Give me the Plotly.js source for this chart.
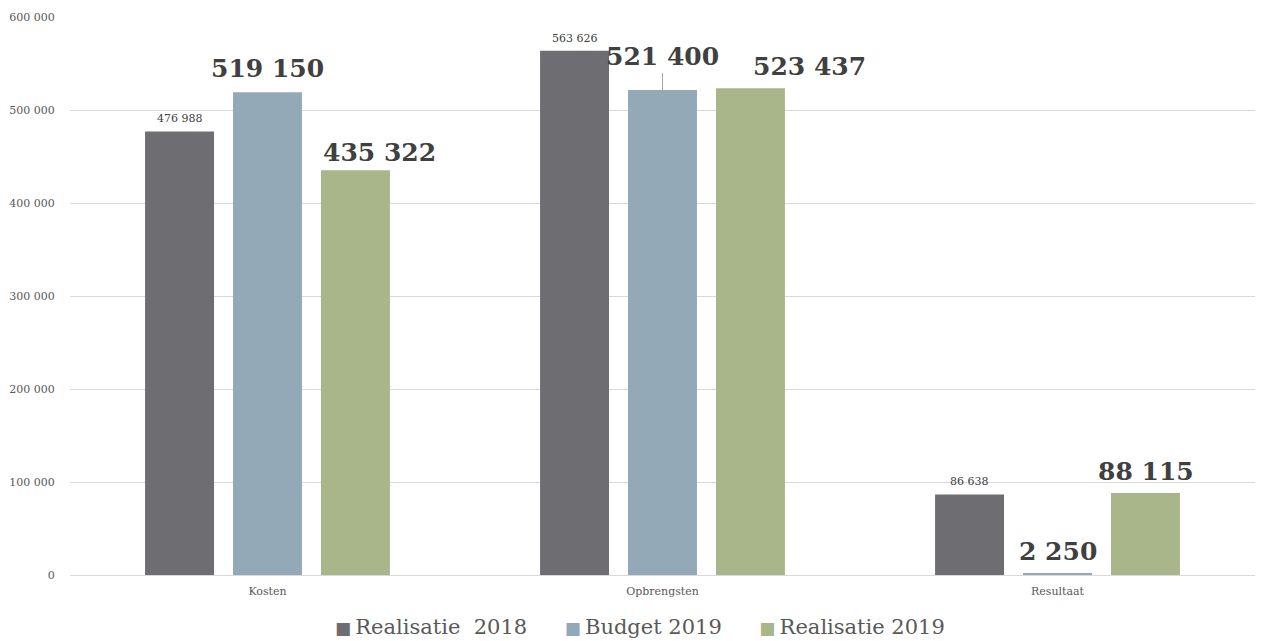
<!DOCTYPE html>
<html>
<head>
<meta charset="utf-8">
<script src="https://cdn.plot.ly/plotly-3.0.1.min.js"></script>
<style>html,body{margin:0;padding:0;background:#fff;}#chart{width:1262px;height:641px;}</style>
</head>
<body>
<div id="chart"></div>
<script>
var categories = ["Kosten", "Opbrengsten", "Resultaat"];
var seriesNames = ["Realisatie\u00a0 2018", "Budget 2019", "Realisatie 2019"];
var realisatie2018 = [476988, 563626, 86638];
var budget2019 = [519150, 521400, 2250];
var realisatie2019 = [435322, 523437, 88115];
var yTickVals = [0, 100000, 200000, 300000, 400000, 500000, 600000];
var yTickText = ["0", "100 000", "200 000", "300 000", "400 000", "500 000", "600 000"];

var colors = ["#6e6d72", "#93a9b8", "#a8b689"];
var series = [realisatie2018, budget2019, realisatie2019];
var serif = "DejaVu Serif, Liberation Serif, serif";

function fmt(v) {
  return String(v).replace(/\B(?=(\d{3})+(?!\d))/g, " ");
}

var traces = series.map(function (vals, i) {
  return {
    type: "bar",
    name: seriesNames[i],
    x: categories,
    y: vals,
    marker: { color: colors[i] },
    hoverinfo: "none",
    showlegend: false
  };
});

// label placement tweaks (pixels), keyed "series,category"
var labelShift = {
  "1,0": { dx: 0, dy: 7 },
  "2,0": { dx: 24, dy: 1 },
  "2,1": { dx: 59, dy: 5 },
  "1,2": { dx: 0, dy: 5 },
  "2,2": { dx: 0, dy: 5 }
};

var annotations = [];
var offsets = [-88, 0, 88];
series.forEach(function (vals, s) {
  vals.forEach(function (v, c) {
    var small = (s === 0);
    var adj = labelShift[s + "," + c] || { dx: 0, dy: small ? 4 : 5 };
    var ann = {
      x: categories[c],
      y: v,
      xref: "x",
      yref: "y",
      xshift: offsets[s] + adj.dx,
      yanchor: "bottom",
      text: small ? fmt(v) : "<b>" + fmt(v) + "</b>",
      showarrow: false,
      font: { family: serif, size: small ? 11 : 25, color: "#404040" },
      yshift: adj.dy
    };
    if (s === 1 && c === 1) {
      ann.showarrow = true;
      ann.arrowhead = 0;
      ann.arrowwidth = 1;
      ann.arrowcolor = "#a6a6a6";
      ann.ax = 0;
      ann.ay = -17;
      ann.xshift = offsets[s];
      ann.yshift = 0;
    }
    annotations.push(ann);
  });
});

// legend drawn as one line of text, built from the series names and colours
var legendParts = seriesNames.map(function (n, i) {
  return "<span style='color:" + colors[i] + ";font-size:17px'>■</span>\u2009" + n;
});
annotations.push({
  xref: "paper",
  yref: "paper",
  x: 0.481,
  y: -0.094,
  xanchor: "center",
  yanchor: "middle",
  showarrow: false,
  text: legendParts.join("\u00a0\u00a0\u00a0\u00a0\u00a0\u2009"),
  font: { family: serif, size: 21, color: "#595959" }
});

var layout = {
  width: 1262,
  height: 641,
  margin: { l: 70, r: 7, t: 17, b: 66, autoexpand: false },
  paper_bgcolor: "#ffffff",
  plot_bgcolor: "#ffffff",
  barmode: "group",
  bargap: 0.332,
  bargroupgap: 0.216,
  showlegend: false,
  xaxis: {
    type: "category",
    showgrid: false,
    showline: true,
    linecolor: "#d9d9d9",
    linewidth: 1,
    ticks: "outside",
    ticklen: 6,
    tickcolor: "rgba(0,0,0,0)",
    tickfont: { family: serif, size: 11, color: "#595959" },
    fixedrange: true
  },
  yaxis: {
    range: [0, 600000],
    tickvals: yTickVals,
    ticktext: yTickText,
    showgrid: true,
    gridcolor: "#d9d9d9",
    gridwidth: 1,
    zeroline: false,
    showline: false,
    ticks: "outside",
    ticklen: 12,
    tickcolor: "rgba(0,0,0,0)",
    tickfont: { family: serif, size: 11, color: "#595959" },
    fixedrange: true
  },
  annotations: annotations
};

Plotly.newPlot("chart", traces, layout, { displayModeBar: false, staticPlot: true });
</script>
</body>
</html>
